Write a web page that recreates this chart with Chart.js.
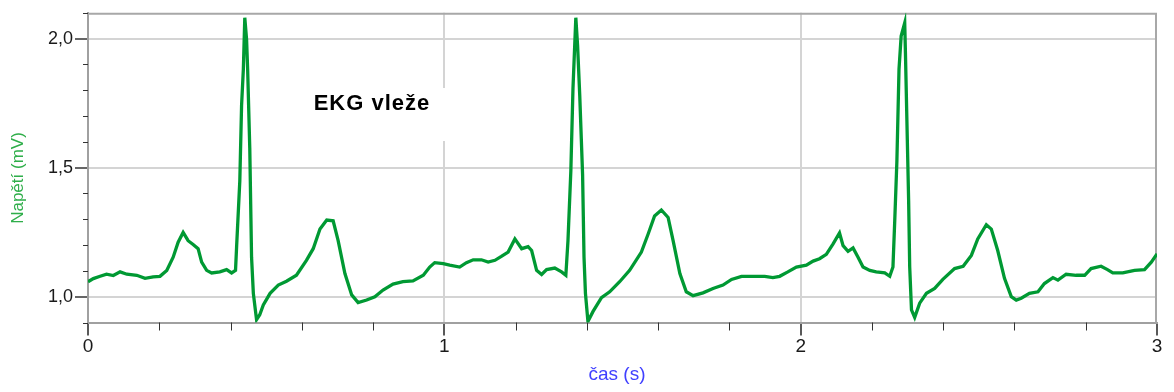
<!DOCTYPE html>
<html lang="cs">
<head>
<meta charset="utf-8">
<title>EKG vleže</title>
<script src="https://cdn.jsdelivr.net/npm/chart.js@4.4.1/dist/chart.umd.min.js"></script>
<style>
    html, body { margin: 0; padding: 0; background: #fff; }
    #wrap { width: 1174px; height: 392px; position: relative; }
</style>
</head>
<body>
<div id="wrap"><canvas id="ekg-chart"></canvas></div>
<script>
// čas (s)
const casS = [
    0.000, 0.015, 0.034, 0.052, 0.071, 0.090, 0.109, 0.137, 0.160, 0.183,
    0.202, 0.221, 0.239, 0.253, 0.267, 0.281, 0.295, 0.309, 0.319, 0.333,
    0.347, 0.370, 0.389, 0.403, 0.414, 0.417, 0.426, 0.431, 0.436, 0.440,
    0.445, 0.448, 0.454, 0.459, 0.464, 0.473, 0.482, 0.492, 0.511, 0.534,
    0.557, 0.585, 0.613, 0.632, 0.651, 0.670, 0.688, 0.702, 0.721, 0.740,
    0.758, 0.782, 0.805, 0.828, 0.856, 0.884, 0.912, 0.941, 0.959, 0.973,
    0.997, 1.015, 1.043, 1.062, 1.081, 1.104, 1.123, 1.142, 1.160, 1.179,
    1.198, 1.217, 1.235, 1.245, 1.259, 1.273, 1.287, 1.310, 1.329, 1.341,
    1.347, 1.355, 1.361, 1.369, 1.374, 1.380, 1.388, 1.392, 1.396, 1.403,
    1.417, 1.441, 1.464, 1.492, 1.520, 1.553, 1.572, 1.590, 1.609, 1.628,
    1.642, 1.661, 1.679, 1.698, 1.726, 1.754, 1.782, 1.806, 1.834, 1.866,
    1.899, 1.922, 1.941, 1.964, 1.988, 2.016, 2.035, 2.053, 2.072, 2.091,
    2.109, 2.119, 2.133, 2.147, 2.161, 2.175, 2.194, 2.212, 2.236, 2.250,
    2.259, 2.264, 2.270, 2.276, 2.282, 2.292, 2.294, 2.298, 2.303, 2.306,
    2.311, 2.320, 2.334, 2.353, 2.376, 2.399, 2.432, 2.456, 2.479, 2.497,
    2.521, 2.535, 2.553, 2.572, 2.591, 2.605, 2.619, 2.642, 2.666, 2.684,
    2.708, 2.722, 2.745, 2.773, 2.797, 2.815, 2.843, 2.861, 2.876, 2.904,
    2.937, 2.965, 2.984, 3.000
];

// napětí (mV)
const napetiMV = [
    1.058, 1.070, 1.079, 1.087, 1.082, 1.096, 1.087, 1.083, 1.071, 1.077,
    1.079, 1.102, 1.153, 1.211, 1.249, 1.217, 1.202, 1.186, 1.134, 1.102,
    1.092, 1.096, 1.105, 1.092, 1.102, 1.192, 1.448, 1.742, 1.882, 2.081,
    1.997, 1.882, 1.575, 1.153, 1.013, 0.911, 0.930, 0.968, 1.013, 1.045,
    1.060, 1.083, 1.141, 1.186, 1.262, 1.297, 1.294, 1.217, 1.090, 1.007,
    0.977, 0.987, 1.000, 1.026, 1.049, 1.058, 1.061, 1.083, 1.115, 1.132,
    1.128, 1.122, 1.115, 1.132, 1.143, 1.143, 1.134, 1.141, 1.156, 1.173,
    1.224, 1.186, 1.194, 1.179, 1.102, 1.086, 1.105, 1.111, 1.096, 1.083,
    1.217, 1.486, 1.806, 2.081, 1.972, 1.780, 1.473, 1.153, 1.013, 0.904,
    0.942, 0.996, 1.019, 1.058, 1.102, 1.173, 1.243, 1.313, 1.336, 1.307,
    1.217, 1.090, 1.019, 1.004, 1.015, 1.032, 1.045, 1.067, 1.079, 1.079,
    1.079, 1.074, 1.079, 1.096, 1.115, 1.122, 1.138, 1.147, 1.164, 1.205,
    1.247, 1.198, 1.176, 1.189, 1.153, 1.115, 1.102, 1.096, 1.092, 1.079,
    1.115, 1.294, 1.524, 1.882, 2.010, 2.061, 1.946, 1.690, 1.371, 1.115,
    0.949, 0.920, 0.975, 1.013, 1.032, 1.067, 1.109, 1.118, 1.160, 1.224,
    1.279, 1.262, 1.179, 1.071, 1.000, 0.987, 0.994, 1.013, 1.019, 1.051,
    1.074, 1.064, 1.087, 1.083, 1.083, 1.109, 1.118, 1.105, 1.092, 1.092,
    1.102, 1.105, 1.134, 1.166
];

const xMajorTicks = [0, 1, 2, 3];
const yMajorTicks = [1.0, 1.5, 2.0];

const nadpis = "EKG vleže";
const popisX = "čas (s)";
const popisY = "Napětí (mV)";

function isMajor(list, v) {
    return list.some(m => Math.abs(m - v) < 1e-6);
}

// minor ticks, frame, title box and axis titles
const ekgDecor = {
    id: "ekgDecor",
    beforeDatasetsDraw(chart) {
        const { ctx, chartArea: a, scales: { x, y } } = chart;
        ctx.save();

        ctx.strokeStyle = "#a8a8a8";
        ctx.lineWidth = 2;
        ctx.beginPath();
        ctx.moveTo(a.left, a.top + 1);
        ctx.lineTo(a.right - 1, a.top + 1);
        ctx.lineTo(a.right - 1, a.bottom);
        ctx.stroke();

        ctx.strokeStyle = "#333";
        ctx.lineWidth = 1;
        y.ticks.forEach(t => {
            if (isMajor(yMajorTicks, t.value)) return;
            const py = Math.round(y.getPixelForValue(t.value)) + 0.5;
            ctx.beginPath();
            ctx.moveTo(a.left - 5, py);
            ctx.lineTo(a.left, py);
            ctx.stroke();
        });
        x.ticks.forEach(t => {
            if (isMajor(xMajorTicks, t.value)) return;
            const px = Math.round(x.getPixelForValue(t.value)) + 0.5;
            ctx.beginPath();
            ctx.moveTo(px, a.bottom);
            ctx.lineTo(px, a.bottom + 8);
            ctx.stroke();
        });

        ctx.fillStyle = "#fff";
        ctx.fillRect(300, 88, 152, 53);
        ctx.fillStyle = "#000";
        ctx.font = "bold 22px 'Liberation Sans', Arial, sans-serif";
        ctx.textAlign = "center";
        ctx.textBaseline = "alphabetic";
        ctx.letterSpacing = "1px";
        ctx.fillText(nadpis, 372, 109.5);
        ctx.restore();
    },
    afterDraw(chart) {
        const { ctx } = chart;
        ctx.save();
        ctx.textAlign = "center";
        ctx.textBaseline = "middle";

        ctx.fillStyle = "#4040ff";
        ctx.font = "19px 'Liberation Sans', Arial, sans-serif";
        ctx.fillText(popisX, 617, 375);

        ctx.translate(18, 178);
        ctx.rotate(-Math.PI / 2);
        ctx.fillStyle = "#2fae4a";
        ctx.font = "17px 'Liberation Sans', Arial, sans-serif";
        ctx.fillText(popisY, 0, 0);
        ctx.restore();
    }
};

document.addEventListener("DOMContentLoaded", function() {
    const points = casS.map((t, i) => ({ x: t, y: napetiMV[i] }));
    const ctx = document.getElementById("ekg-chart").getContext("2d");

    new Chart(ctx, {
        type: "line",
        data: {
            datasets: [{
                label: nadpis,
                data: points,
                borderColor: "#009933",
                borderWidth: 3.3,
                pointRadius: 0,
                tension: 0,
                fill: false
            }]
        },
        options: {
            responsive: true,
            maintainAspectRatio: false,
            animation: false,
            events: [],
            layout: { padding: { top: 10, right: 17, bottom: 0, left: 0 } },
            plugins: {
                legend: { display: false },
                title: { display: false },
                tooltip: { enabled: false }
            },
            scales: {
                x: {
                    type: "linear",
                    min: 0,
                    max: 3,
                    afterFit(s) { s.height = 69.5; },
                    border: { color: "#a0a0a0", width: 2 },
                    grid: {
                        color: c => (isMajor(xMajorTicks, c.tick.value) && c.tick.value > 0 && c.tick.value < 3) ? "#d4d4d4" : "rgba(0,0,0,0)",
                        lineWidth: 2,
                        tickLength: 13,
                        tickColor: c => isMajor(xMajorTicks, c.tick.value) ? "#222" : "rgba(0,0,0,0)",
                        tickWidth: 1.5
                    },
                    ticks: {
                        stepSize: 0.2,
                        autoSkip: false,
                        maxRotation: 0,
                        padding: 0,
                        color: "#1a1a1a",
                        font: { family: "'Liberation Sans', Arial, sans-serif", size: 19 },
                        callback: v => isMajor(xMajorTicks, v) ? String(Math.round(v)) : ""
                    }
                },
                y: {
                    min: 0.9,
                    max: 2.1,
                    afterFit(s) { s.width = 88; },
                    border: { color: "#a0a0a0", width: 2 },
                    grid: {
                        color: c => isMajor(yMajorTicks, c.tick.value) ? "#d4d4d4" : "rgba(0,0,0,0)",
                        lineWidth: 2,
                        tickLength: 13,
                        tickColor: c => isMajor(yMajorTicks, c.tick.value) ? "#333" : "rgba(0,0,0,0)",
                        tickWidth: 1.5
                    },
                    ticks: {
                        stepSize: 0.1,
                        autoSkip: false,
                        padding: 2,
                        color: "#1a1a1a",
                        font: { family: "'Liberation Sans', Arial, sans-serif", size: 18 },
                        callback: v => isMajor(yMajorTicks, v) ? v.toFixed(1).replace(".", ",") : ""
                    }
                }
            }
        },
        plugins: [ekgDecor]
    });
});
</script>
</body>
</html>
